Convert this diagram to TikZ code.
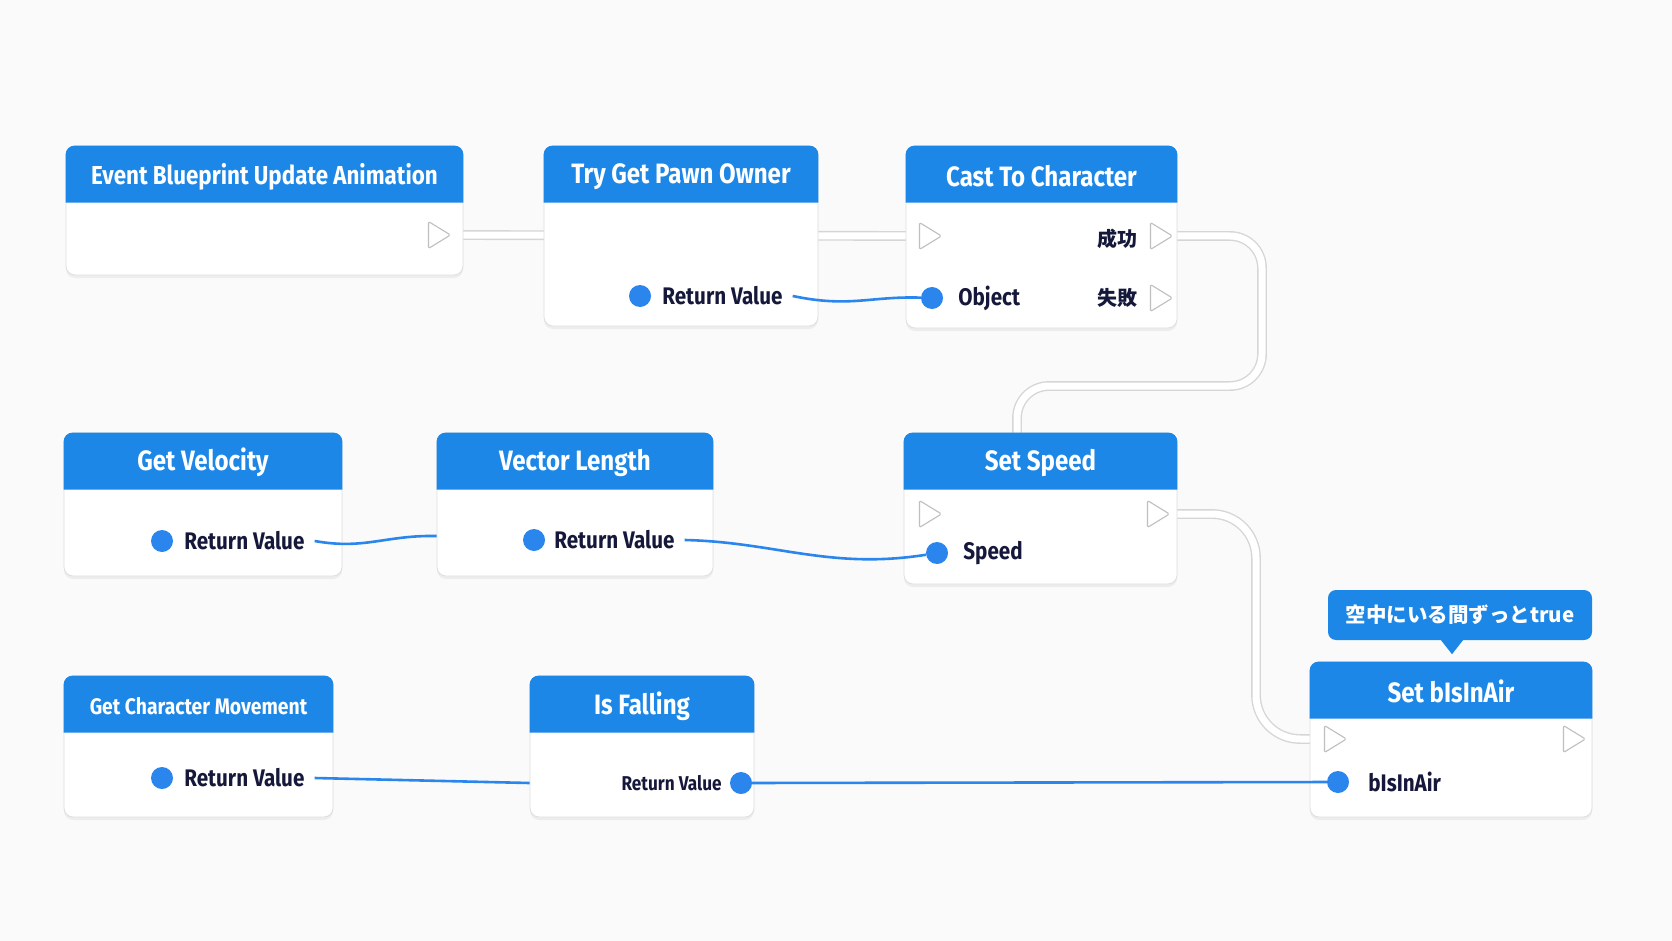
\documentclass[tikz,border=0pt]{standalone}
\usepackage{fontspec}
\setmainfont{Fira Sans}[FakeStretch=0.86]
\newfontfamily\jpfont{Noto Sans CJK JP}
\usetikzlibrary{shapes.geometric,positioning,shadows,backgrounds,calc}

\definecolor{hdblue}{HTML}{1C87E6}
\definecolor{pinblue}{HTML}{2A86EC}
\definecolor{inkdark}{HTML}{15183A}
\definecolor{paper}{HTML}{FAFAFB}

\begin{document}
\begin{tikzpicture}[x=1pt, y=-1pt,
    body/.style={draw=black!13, line width=0.8pt, fill=white, rounded corners=9pt, inner sep=0pt,
      drop shadow={shadow xshift=0pt, shadow yshift=-3pt, opacity=0.10}},
    ttl/.style={text=white, font=\fontsize{28}{32}\selectfont\bfseries},
    lbl/.style={text=inkdark, font=\fontsize{24}{28}\selectfont\bfseries, inner sep=0pt},
    jlbl/.style={text=inkdark, font=\jpfont\fontsize{20}{24}\selectfont\bfseries, inner sep=0pt},
    pin/.style={circle, fill=pinblue, minimum size=22pt, inner sep=0pt},
    xpin/.style={isosceles triangle, isosceles triangle stretches, draw=black!25, fill=white, line width=1.1pt,
      minimum width=27pt, minimum height=22pt, inner sep=0pt, rounded corners=1.5pt},
    xwire/.style={draw=black!16, double=white, double distance=7pt, line width=1.4pt, rounded corners=32pt},
    dwire/.style={draw=pinblue, line width=2.6pt}
]
\useasboundingbox (0,0) rectangle (1672,941);

% node bodies
\node[body, minimum width=397pt, minimum height=129pt] (ev) at (264.5,210.5) {};
\node[body, minimum width=274pt, minimum height=180pt] (tg) at (681,236) {};
\node[body, minimum width=271pt, minimum height=182pt] (ca) at (1041.5,237) {};
\node[body, minimum width=278pt, minimum height=143pt] (gv) at (203,504.5) {};
\node[body, minimum width=276pt, minimum height=143pt] (vl) at (575,504.5) {};
\node[body, minimum width=273pt, minimum height=151pt] (ss) at (1040.5,508.5) {};
\node[body, minimum width=269pt, minimum height=141pt] (gm) at (198.5,746.5) {};
\node[body, minimum width=224pt, minimum height=141pt] (fa) at (642,746.5) {};
\node[body, minimum width=282pt, minimum height=155pt] (sa) at (1451,739.5) {};

% blue title bars
\foreach \n in {ev,tg,ca,gv,vl,ss,gm,fa,sa}
  \fill[hdblue] ([yshift=-57pt]\n.north west) [rounded corners=9pt] -- (\n.north west) -- (\n.north east)
    [sharp corners] -- ([yshift=-57pt]\n.north east) -- cycle;

\node[ttl, font=\fontsize{26}{30}\selectfont\bfseries] (ev-t) at ([yshift=-31pt]ev.north) {Event Blueprint Update Animation};
\node[ttl] (tg-t) at ([yshift=-31pt]tg.north) {Try Get Pawn Owner};
\node[ttl] (ca-t) at ([yshift=-31pt]ca.north) {Cast To Character};
\node[ttl] (gv-t) at ([yshift=-30pt]gv.north) {Get Velocity};
\node[ttl] (vl-t) at ([yshift=-30pt]vl.north) {Vector Length};
\node[ttl] (ss-t) at ([yshift=-30pt]ss.north) {Set Speed};
\node[ttl, font=\fontsize{22.5}{26}\selectfont\bfseries] (gm-t) at ([yshift=-31pt]gm.north) {Get Character Movement};
\node[ttl] (fa-t) at ([yshift=-31pt]fa.north) {Is Falling};
\node[ttl] (sa-t) at ([yshift=-30pt]sa.north) {Set bIsInAir};

% comment bubble
\node[fill=hdblue, rounded corners=8pt, minimum width=264pt, minimum height=50pt, text=white,
  font=\jpfont\fontsize{20.5}{24}\selectfont\bfseries] (cm) at (1460,615) {空中にいる間ずっとtrue};
\fill[hdblue] ([xshift=-19pt]cm.south) -- ++(22,0) -- ++(-11,14) -- cycle;

% pins and labels
\node[xpin] (ev-x) at (436,235) {};

\node[pin] (tg-p) at (640,296) {};
\node[lbl, right=11pt of tg-p] (tg-rv) {Return Value};

\node[xpin] (ca-xi) at (927,236) {};
\node[xpin] (ca-ok) at (1158,236) {};
\node[xpin] (ca-ng) at (1158,298) {};
\node[pin] (ca-ob) at (932,298) {};
\node[lbl, right=15pt of ca-ob] (ca-obl) {Object};
\node[jlbl, left=12pt of ca-ok, yshift=-3pt] (ca-okl) {成功};
\node[jlbl, left=12pt of ca-ng] (ca-ngl) {失敗};

\node[pin] (gv-p) at (162,541) {};
\node[lbl, right=11pt of gv-p] (gv-rv) {Return Value};
\node[pin] (vl-p) at (534,540) {};
\node[lbl, right=9pt of vl-p] (vl-rv) {Return Value};

\node[xpin] (ss-xi) at (927,514) {};
\node[xpin] (ss-xo) at (1155,514) {};
\node[pin] (ss-sp) at (937,553) {};
\node[lbl, right=15pt of ss-sp] (ss-spl) {Speed};

\node[pin] (gm-p) at (162,778) {};
\node[lbl, right=11pt of gm-p] (gm-rv) {Return Value};
\node[pin] (fa-p) at (741,783) {};
\node[lbl, font=\fontsize{20}{24}\selectfont\bfseries, left=8pt of fa-p] (fa-rv) {Return Value};

\node[xpin] (sa-xi) at (1332,739) {};
\node[xpin] (sa-xo) at (1571,739) {};
\node[pin] (sa-p) at (1338,782) {};
\node[lbl, right=19pt of sa-p] (sa-pl) {bIsInAir};

\coordinate (ss-top) at (1017,450);

% data wires
\draw[dwire] ([xshift=10pt]tg-rv.east) .. controls (850,308) and (870,296) .. (ca-ob);
\draw[dwire] ([xshift=10pt]gv-rv.east) .. controls (365,550) and (385,535) .. ([yshift=4pt]vl.west |- vl-p);
\draw[dwire] ([xshift=10pt]vl-rv.east) .. controls (775,542) and (830,570) .. (ss-sp);
\draw[dwire] ([xshift=10pt]gm-rv.east) -- (fa.west |- fa-p);
\draw[dwire] (fa-p) -- (sa-p);

% exec wires, behind the boxes
\begin{scope}[on background layer]
\fill[paper] (0,0) rectangle (1672,941);
\draw[xwire] (ev-x) -- (ca-xi);
\draw[xwire] (ca-ok) -| (1262,386) -| (ss-top);
\draw[xwire, rounded corners=44pt] (ss-xo) -| (1256,739) -- (sa-xi);
\end{scope}
\end{tikzpicture}
\end{document}
